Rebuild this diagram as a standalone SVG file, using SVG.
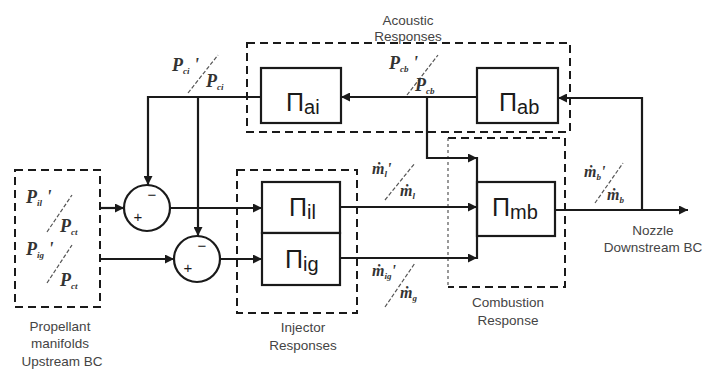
<svg xmlns="http://www.w3.org/2000/svg" width="705" height="371" viewBox="0 0 705 371">
<defs>
<marker id="ah" viewBox="0 0 10 10" refX="10" refY="5" markerWidth="10" markerHeight="9" markerUnits="userSpaceOnUse" orient="auto">
<path d="M0,0 L10,5 L0,10 Z" fill="#1a1a1a"/>
</marker>
<style>
.blk{fill:#fff;stroke:#1a1a1a;stroke-width:2.2}
.grp{fill:none;stroke:#1a1a1a;stroke-width:2;stroke-dasharray:8 5}
.faint{fill:none;stroke:#555;stroke-width:1.2;stroke-dasharray:3 3}
.wire{fill:none;stroke:#1a1a1a;stroke-width:2.2}
.arr{marker-end:url(#ah)}
.pi{font-family:"Liberation Sans",Arial,sans-serif;font-size:25px;fill:#1a1a1a}
.sub{font-size:20px}
.cap{font-family:"Liberation Sans",Arial,sans-serif;font-size:13.5px;fill:#444;text-anchor:middle}
.fr{font-family:"Liberation Serif","DejaVu Serif",serif;font-style:italic;font-weight:bold;font-size:18px;fill:#333}
.fm{font-size:16px}
.fs{font-size:9px}
.sl{stroke:#555;stroke-width:1.2;stroke-dasharray:4 2;fill:none}
.sg{font-family:"Liberation Sans",Arial,sans-serif;font-size:15px;fill:#1a1a1a;text-anchor:middle}
</style>
</defs>
<rect width="705" height="371" fill="#fff"/>

<g id="manifold">
<rect class="grp" x="15" y="170" width="85" height="137"/>
<text class="fr" x="26" y="203">P<tspan class="fs" dy="3">il</tspan><tspan dy="-3"> '</tspan></text>
<line class="sl" x1="47" y1="232" x2="72" y2="195"/>
<text class="fr" x="60" y="232">P<tspan class="fs" dy="3">ct</tspan></text>
<text class="fr" x="26" y="255">P<tspan class="fs" dy="3">ig</tspan><tspan dy="-3"> '</tspan></text>
<line class="sl" x1="47" y1="283" x2="72" y2="245"/>
<text class="fr" x="60" y="286">P<tspan class="fs" dy="3">ct</tspan></text>
<text class="cap" x="60" y="331">Propellant</text>
<text class="cap" x="60" y="348">manifolds</text>
<text class="cap" x="62" y="366">Upstream BC</text>
</g>

<g id="sum1">
<circle class="blk" cx="147" cy="208" r="23"/>
<text class="sg" x="152" y="200">−</text>
<text class="sg" x="138" y="222">+</text>
</g>
<g id="sum2">
<circle class="blk" cx="197" cy="259" r="23"/>
<text class="sg" x="202" y="251">−</text>
<text class="sg" x="188" y="273">+</text>
</g>

<g id="acoustic">
<rect class="grp" x="247" y="43" width="323" height="89"/>
<text class="cap" x="408" y="25">Acoustic</text>
<text class="cap" x="408" y="41">Responses</text>
</g>
<g id="injector">
<rect class="grp" x="237" y="170" width="120" height="143"/>
<text class="cap" x="303" y="332">Injector</text>
<text class="cap" x="303" y="350">Responses</text>
</g>
<g id="combustion">
<path class="grp" d="M448,138 H565 V287 H448"/>
<line class="faint" x1="448" y1="138" x2="448" y2="287"/>
<text class="cap" x="508" y="307">Combustion</text>
<text class="cap" x="508" y="325">Response</text>
</g>

<g id="pi_ai">
<rect class="blk" x="261" y="68" width="80" height="55"/>
<text class="pi" x="286" y="111">Π<tspan class="sub" dy="3">ai</tspan></text>
</g>
<g id="pi_ab">
<rect class="blk" x="477" y="68" width="81" height="55"/>
<text class="pi" x="499" y="111">Π<tspan class="sub" dy="3">ab</tspan></text>
</g>
<g id="pi_il">
<rect class="blk" x="262" y="182" width="78" height="51"/>
<text class="pi" x="289" y="216">Π<tspan class="sub" dy="3">il</tspan></text>
</g>
<g id="pi_ig">
<rect class="blk" x="262" y="233" width="78" height="52"/>
<text class="pi" x="285" y="268">Π<tspan class="sub" dy="3">ig</tspan></text>
</g>
<g id="pi_mb">
<rect class="blk" x="477" y="182" width="78" height="54"/>
<text class="pi" x="492" y="216">Π<tspan class="sub" dy="3">mb</tspan></text>
</g>

<g id="connectors">
<path class="wire arr" d="M100,208 H124"/>
<path class="wire arr" d="M100,259 H174"/>
<path class="wire arr" d="M170,208 H262"/>
<path class="wire arr" d="M220,259 H262"/>
<path class="wire arr" d="M261,97 H148 V185"/>
<path class="wire arr" d="M198,97 V236"/>
<path class="wire arr" d="M477,97 H341"/>
<path class="wire arr" d="M427,97 V158 H477"/>
<path class="wire arr" d="M340,207 H477"/>
<path class="wire arr" d="M340,258 H477"/>
<path class="wire" d="M477,157 V259"/>
<path class="wire arr" d="M555,210 H688"/>
<path class="wire arr" d="M642,211 V98 H558"/>
</g>

<g id="labels">
<text class="fr" x="172" y="71">P<tspan class="fs" dy="3">ci</tspan><tspan dy="-3"> '</tspan></text>
<line class="sl" x1="188" y1="93" x2="218" y2="55"/>
<text class="fr" x="206" y="87">P<tspan class="fs" dy="3">ci</tspan></text>
<text class="fr" x="389" y="69">P<tspan class="fs" dy="3">cb</tspan><tspan dy="-3"> '</tspan></text>
<line class="sl" x1="407" y1="95" x2="438" y2="55"/>
<text class="fr" x="415" y="91">P<tspan class="fs" dy="3">cb</tspan></text>
<text class="fr fm" x="372" y="174">ṁ<tspan class="fs" dy="3">l</tspan><tspan dy="-3">'</tspan></text>
<line class="sl" x1="385" y1="200" x2="415" y2="163"/>
<text class="fr fm" x="400" y="196">ṁ<tspan class="fs" dy="3">l</tspan></text>
<text class="fr fm" x="372" y="276">ṁ<tspan class="fs" dy="3">ig</tspan><tspan dy="-3">'</tspan></text>
<line class="sl" x1="385" y1="307" x2="415" y2="263"/>
<text class="fr fm" x="400" y="298">ṁ<tspan class="fs" dy="3">g</tspan></text>
<text class="fr fm" x="584" y="177">ṁ<tspan class="fs" dy="3">b</tspan><tspan dy="-3">'</tspan></text>
<line class="sl" x1="595" y1="203" x2="623" y2="163"/>
<text class="fr fm" x="607" y="200">ṁ<tspan class="fs" dy="3">b</tspan></text>
<text class="cap" x="653" y="235">Nozzle</text>
<text class="cap" x="653" y="252">Downstream BC</text>
</g>
</svg>
